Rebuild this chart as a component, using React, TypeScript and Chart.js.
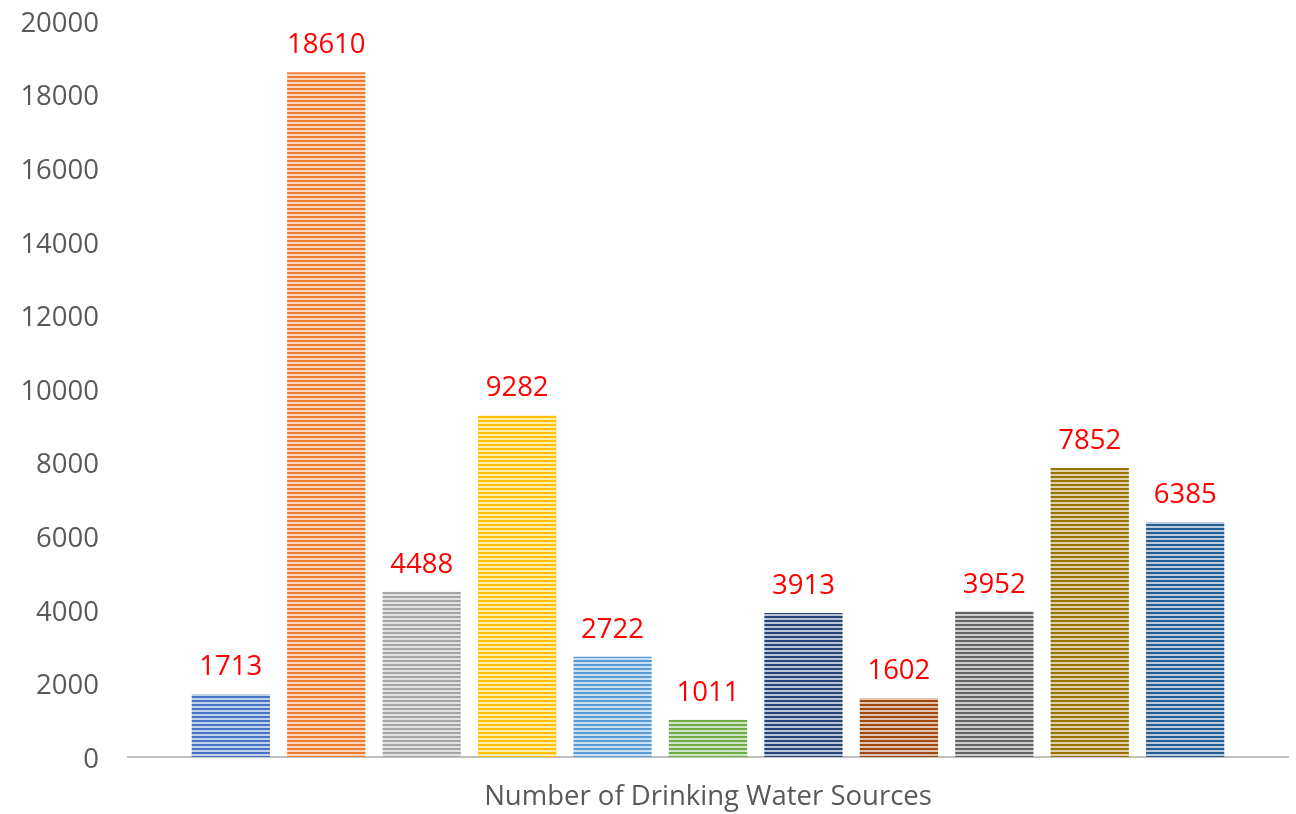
import React, { useEffect, useRef } from 'react';
import { Chart, registerables } from 'chart.js';

Chart.register(...registerables);

const categoryLabels = [''];
const seriesNames = [
  'Series 1', 'Series 2', 'Series 3', 'Series 4', 'Series 5', 'Series 6',
  'Series 7', 'Series 8', 'Series 9', 'Series 10', 'Series 11',
];
const seriesValues = [1713, 18610, 4488, 9282, 2722, 1011, 3913, 1602, 3952, 7852, 6385];
const seriesColors = [
  '#4472C4', '#ED7D31', '#A5A5A5', '#FFC000', '#5B9BD5', '#70AD47',
  '#264478', '#9E480E', '#636363', '#997300', '#255E91',
];
const yMin = 0;
const yMax = 20000;
const yStep = 2000;
const xAxisTitle = 'Number of Drinking Water Sources';

const FONT = "'Open Sans', 'DejaVu Sans', sans-serif";
const FONT_SIZE = 27.5;

function mix(hex: string, t: number): string {
  const n = parseInt(hex.slice(1), 16);
  const r = (n >> 16) & 255, g = (n >> 8) & 255, b = n & 255;
  const m = (c: number) => Math.round(c + (255 - c) * t);
  return `rgb(${m(r)},${m(g)},${m(b)})`;
}

function makePattern(color: string): CanvasPattern | string {
  const c = document.createElement('canvas');
  c.width = 4;
  c.height = 4;
  const ctx = c.getContext('2d');
  if (!ctx) return color;
  ctx.fillStyle = mix(color, 0.68);
  ctx.fillRect(0, 0, 4, 4);
  ctx.fillStyle = color;
  ctx.fillRect(0, 0, 4, 2);
  return ctx.createPattern(c, 'repeat') || color;
}

const dataLabelPlugin = {
  id: 'dataLabels',
  afterDatasetsDraw(chart: any) {
    const ctx = chart.ctx;
    ctx.save();
    ctx.fillStyle = '#FF0000';
    ctx.font = `${FONT_SIZE}px ${FONT}`;
    ctx.textAlign = 'center';
    ctx.textBaseline = 'alphabetic';
    chart.data.datasets.forEach((ds: any, i: number) => {
      const meta = chart.getDatasetMeta(i);
      meta.data.forEach((el: any, j: number) => {
        const v = ds.data[j];
        ctx.fillText(String(v), el.x, el.y - 19);
      });
    });
    ctx.restore();
  },
};

export default function App() {
  const ref = useRef<HTMLCanvasElement | null>(null);

  useEffect(() => {
    document.body.style.margin = '0';
    const canvas = ref.current;
    if (!canvas) return;
    const datasets = seriesNames.map((name, i) => ({
      label: name,
      data: [seriesValues[i]],
      backgroundColor: makePattern(seriesColors[i]),
      borderWidth: 0,
      categoryPercentage: 0.905,
      barPercentage: 0.82,
    }));
    const chart = new Chart(canvas, {
      type: 'bar',
      data: { labels: categoryLabels, datasets },
      plugins: [dataLabelPlugin],
      options: {
        responsive: false,
        animation: false,
        layout: { padding: { top: 21, right: 8, bottom: 0, left: 0 } },
        plugins: {
          legend: { display: false },
          tooltip: { enabled: false },
        },
        scales: {
          x: {
            grid: { display: false, drawTicks: false },
            border: { display: true, color: '#BFBFBF', width: 2 },
            ticks: { display: false },
            title: {
              display: true,
              text: xAxisTitle,
              color: '#595959',
              font: { family: FONT, size: FONT_SIZE },
              padding: { top: 24, bottom: 0 },
            },
          },
          y: {
            min: yMin,
            max: yMax,
            grid: { display: false, drawTicks: false },
            border: { display: false },
            ticks: {
              stepSize: yStep,
              color: '#595959',
              font: { family: FONT, size: FONT_SIZE },
              padding: 29,
              labelOffset: 3,
              callback: (v: any) => String(v),
            },
            afterFit: (scale: any) => {
              scale.width = 128;
              scale.paddingTop = 0;
              scale.paddingBottom = 0;
            },
          },
        },
      },
    });
    return () => chart.destroy();
  }, []);

  return (
    <div style={{ position: 'fixed', left: 0, top: 0, width: 1296, height: 814, background: '#fff' }}>
      <canvas ref={ref} width={1296} height={814} />
    </div>
  );
}
